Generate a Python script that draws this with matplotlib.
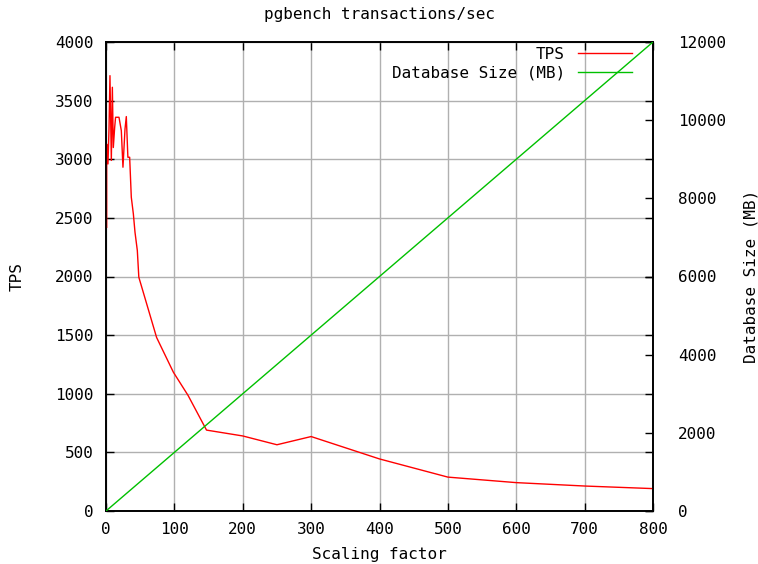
import matplotlib
matplotlib.use("Agg")
import matplotlib.pyplot as plt

# ---- data ----
scale = [1, 1, 2.9, 4.4, 5.8, 7.8, 9.3, 10.7, 12.7, 14, 19, 22.4, 24.8, 27.8, 29.7,
         32, 34.6, 37, 40, 42.4, 45.8, 48, 74, 98.5, 120, 147, 200, 250, 300,
         400, 500, 600, 700, 800]
tps = [2420, 3130, 2960, 3260, 3713, 2990, 3614, 3100, 3273, 3358, 3358, 3244, 2932,
       3258, 3364, 3017, 3017, 2676, 2534, 2378, 2222, 1994, 1480, 1184, 986, 690,
       640, 565, 635, 444, 289, 242, 213, 191]

db_scale = [0, 10, 50, 100, 150, 200, 250, 300, 400, 500, 600, 700, 800]
db_mb = [0, 150, 750, 1500, 2250, 3000, 3750, 4500, 6000, 7500, 9000, 10500, 12000]

x_ticks = [0, 100, 200, 300, 400, 500, 600, 700, 800]
tps_ticks = [0, 500, 1000, 1500, 2000, 2500, 3000, 3500, 4000]
mb_ticks = [0, 2000, 4000, 6000, 8000, 10000, 12000]

FONT = "DejaVu Sans Mono"
FS = 11.5
plt.rcParams['font.family'] = [FONT]

W, H = 758, 564
fig = plt.figure(figsize=(W / 100, H / 100), dpi=100)
L, R, T, B = 106, 653, 42, 511
ax = fig.add_axes([L / W, 1 - B / H, (R - L) / W, (B - T) / H])
ax2 = ax.twinx()

l1, = ax.plot(scale, tps, color="#ff0000", lw=1.0, label="TPS", zorder=3)
l2, = ax2.plot(db_scale, db_mb, color="#00c000", lw=1.0, label="Database Size (MB)", zorder=3)

ax.set_xlim(0, 800)
ax.set_ylim(0, 4000)
ax2.set_ylim(0, 12000)
ax.set_xticks(x_ticks)
ax.set_yticks(tps_ticks)
ax2.set_yticks(mb_ticks)
ax.set_xticklabels([str(v) for v in x_ticks], fontsize=FS)
ax.set_yticklabels([str(v) for v in tps_ticks], fontsize=FS)
ax2.set_yticklabels([str(v) for v in mb_ticks], fontsize=FS)

ax.grid(True, color="#b0b0b0", lw=1.0)
ax.set_axisbelow(True)

ax.tick_params(axis='x', direction='in', length=6, width=1, top=True, pad=8)
ax.tick_params(axis='y', direction='in', length=6, width=1, right=True, pad=9)
ax2.tick_params(axis='y', direction='in', length=6, width=1, pad=18)
for a in (ax, ax2):
    for s in a.spines.values():
        s.set_linewidth(1.2)
        s.set_color("black")

ax.set_title("pgbench transactions/sec", fontsize=FS, va='center', pad=0,
             y=(B - 14) / (B - T))
ax.set_xlabel("Scaling factor", fontsize=FS, va='center')
ax.xaxis.set_label_coords(0.5, (B - 555) / (B - T))
ax.set_ylabel("TPS", fontsize=FS, va='center')
ax.yaxis.set_label_coords((17 - L) / (R - L), 0.5)
ax2.set_ylabel("Database Size (MB)", fontsize=FS, va='center')
ax2.yaxis.set_label_coords((751 - L) / (R - L), 0.5)

leg = ax2.legend(handles=[l1, l2], loc='upper right', frameon=False, markerfirst=False,
                 fontsize=FS, handlelength=3.4, handletextpad=0.8, labelspacing=0.25,
                 borderaxespad=0, borderpad=0,
                 bbox_to_anchor=((632 - L) / (R - L), (B - 47) / (B - T)))

fig.savefig("out.png", dpi=100)
